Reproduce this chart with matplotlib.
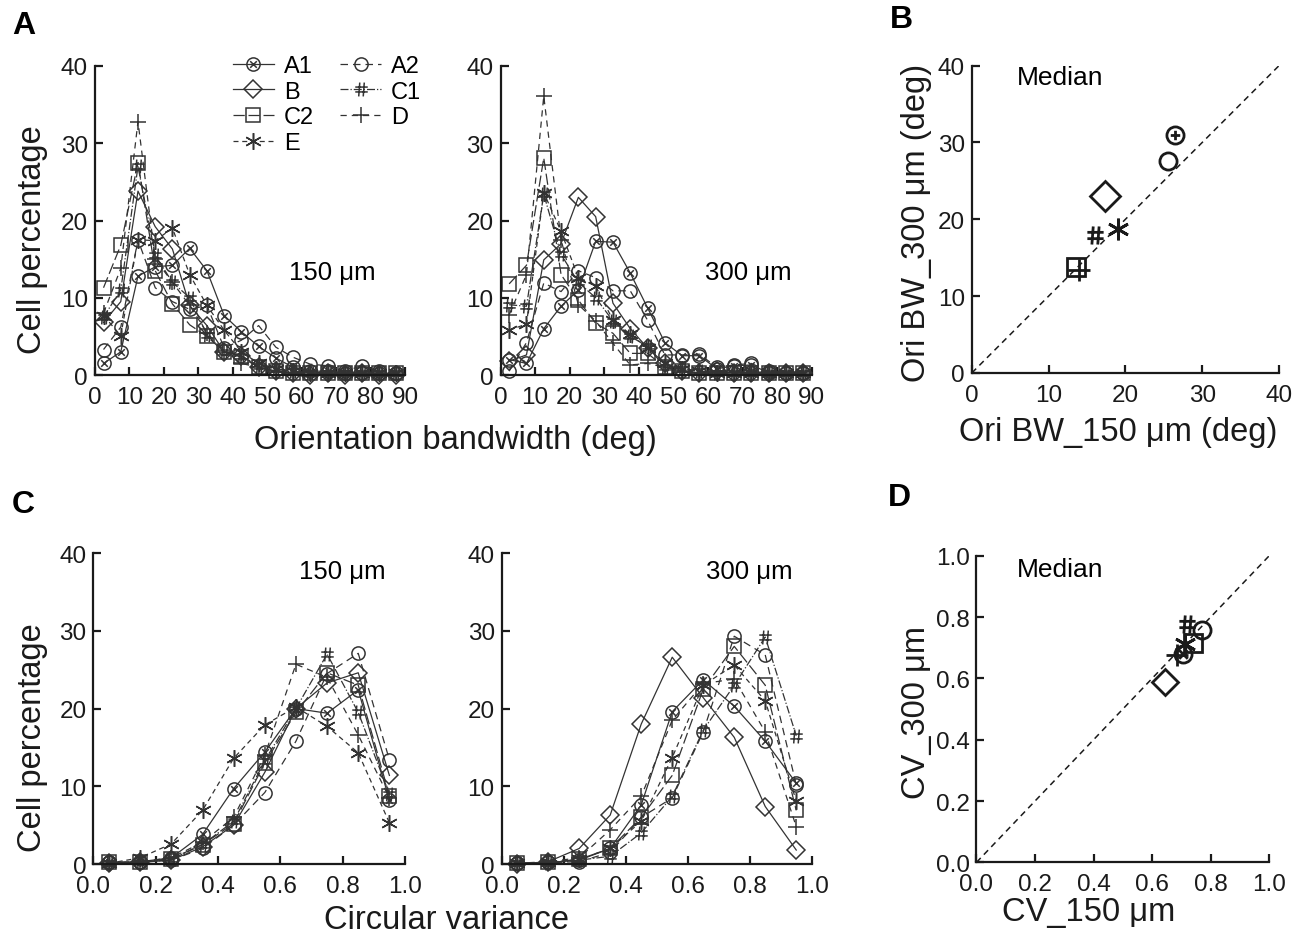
import numpy as np
import matplotlib
matplotlib.use('Agg')
import matplotlib.pyplot as plt
from matplotlib.path import Path

plt.rcParams['font.family'] = ['Liberation Sans', 'DejaVu Sans']

# animals / series
names = ['A1', 'A2', 'B', 'C1', 'C2', 'D', 'E']
legend_order = ['A1', 'B', 'C2', 'E', 'A2', 'C1', 'D']

# orientation bandwidth histograms (bin centres in deg)
bw_bins = [2.5, 7.5, 12.5, 17.5, 22.5, 27.5, 32.5, 37.5, 42.5,
           47.5, 52.5, 57.5, 62.5, 67.5, 72.5, 77.5, 82.5, 87.5]
bw150 = {
    'A1': [1.5, 3.0, 12.8, 14.0, 14.2, 16.4, 13.5, 7.7, 5.6, 3.7, 2.2, 1.0, 0.5, 0.5, 0.3, 0.3, 0.2, 0.2],
    'A2': [3.3, 6.2, 17.5, 11.3, 9.5, 8.5, 9.0, 3.5, 4.5, 6.4, 3.6, 2.3, 1.4, 1.2, 0.5, 1.2, 0.5, 0.3],
    'B':  [6.8, 9.5, 23.8, 19.2, 16.3, 9.0, 6.4, 3.0, 2.5, 1.0, 0.5, 0.2, 0.0, 0.2, 0.0, 0.2, 0.0, 0.0],
    'C1': [7.5, 11.0, 27.0, 15.5, 12.0, 10.0, 5.2, 3.0, 2.5, 1.2, 0.8, 0.5, 0.3, 0.3, 0.2, 0.2, 0.2, 0.2],
    'C2': [11.3, 16.8, 27.5, 13.5, 9.2, 6.5, 5.0, 3.0, 2.3, 1.0, 0.5, 0.3, 0.3, 0.2, 0.2, 0.2, 0.2, 0.2],
    'D':  [8.0, 13.8, 32.8, 15.0, 12.0, 9.0, 5.5, 3.0, 1.5, 1.0, 0.5, 0.3, 0.2, 0.2, 0.2, 0.2, 0.2, 0.2],
    'E':  [7.7, 5.1, 17.5, 17.4, 19.0, 13.0, 9.0, 5.8, 3.0, 1.5, 0.8, 0.5, 0.3, 0.3, 0.2, 0.2, 0.2, 0.2],
}
bw300 = {
    'A1': [2.0, 1.5, 6.0, 8.9, 11.0, 17.3, 17.2, 13.2, 8.7, 4.2, 2.5, 2.5, 0.8, 1.2, 1.3, 0.3, 0.3, 0.3],
    'A2': [0.5, 4.2, 11.9, 10.8, 13.5, 12.6, 10.9, 10.9, 7.1, 2.6, 2.6, 2.7, 1.0, 1.3, 1.5, 0.5, 0.3, 0.3],
    'B':  [1.8, 2.6, 14.9, 17.0, 23.0, 20.5, 9.3, 6.0, 3.5, 1.5, 0.5, 0.2, 0.5, 0.3, 0.2, 0.2, 0.2, 0.2],
    'C1': [9.1, 8.9, 23.4, 15.6, 12.0, 10.0, 7.0, 5.0, 3.7, 1.0, 0.8, 0.5, 0.3, 0.3, 0.3, 0.3, 0.3, 0.3],
    'C2': [11.8, 14.2, 28.1, 13.0, 9.7, 6.7, 5.4, 2.8, 2.8, 1.0, 0.5, 0.3, 0.3, 0.3, 0.3, 0.3, 0.3, 0.3],
    'D':  [7.8, 13.0, 36.1, 17.5, 9.1, 7.0, 4.1, 1.3, 1.5, 1.0, 0.5, 0.3, 0.3, 0.3, 0.3, 0.3, 0.3, 0.3],
    'E':  [5.8, 6.6, 23.6, 18.6, 12.6, 11.5, 7.1, 5.3, 3.5, 1.5, 0.8, 0.5, 0.3, 0.3, 0.3, 0.3, 0.3, 0.3],
}

# circular variance histograms
cv_bins = [0.05, 0.15, 0.25, 0.35, 0.45, 0.55, 0.65, 0.75, 0.85, 0.95]
cv150 = {
    'A1': [0.2, 0.3, 0.8, 3.8, 9.7, 14.4, 20.0, 19.4, 22.4, 8.2],
    'A2': [0.2, 0.3, 0.5, 2.0, 5.0, 9.2, 15.8, 24.5, 27.1, 13.4],
    'B':  [0.1, 0.2, 0.5, 2.2, 5.0, 11.8, 20.0, 23.3, 24.6, 11.4],
    'C1': [0.1, 0.2, 0.6, 2.5, 5.5, 13.3, 20.0, 27.0, 19.5, 9.0],
    'C2': [0.2, 0.2, 0.7, 2.5, 5.2, 13.0, 19.5, 24.6, 23.0, 8.8],
    'D':  [0.1, 0.3, 0.8, 2.8, 6.0, 14.0, 25.7, 24.0, 16.6, 8.5],
    'E':  [0.1, 0.8, 2.6, 6.9, 13.6, 17.9, 20.2, 17.7, 14.3, 5.3],
}
cv300 = {
    'A1': [0.1, 0.2, 0.5, 2.0, 7.6, 19.6, 23.7, 20.3, 15.8, 10.4],
    'A2': [0.1, 0.2, 0.3, 1.5, 6.0, 8.5, 17.0, 29.3, 26.9, 10.2],
    'B':  [0.0, 0.3, 2.0, 6.3, 18.0, 26.6, 21.4, 16.3, 7.4, 1.8],
    'C1': [0.1, 0.1, 0.5, 1.0, 4.0, 8.7, 17.2, 23.0, 29.2, 16.5],
    'C2': [0.1, 0.2, 0.6, 2.0, 6.0, 11.4, 22.5, 28.0, 23.0, 6.9],
    'D':  [0.1, 0.3, 0.8, 4.4, 8.7, 18.5, 23.2, 23.8, 17.0, 4.8],
    'E':  [0.1, 0.2, 0.6, 2.0, 5.5, 13.7, 23.0, 25.6, 21.0, 8.1],
}

# medians, same order as names
med_bw150 = [26.5, 25.6, 17.4, 16.1, 13.5, 14.0, 19.0]
med_bw300 = [31.0, 27.6, 23.0, 17.9, 13.75, 13.4, 18.7]
med_cv150 = [0.705, 0.769, 0.644, 0.720, 0.741, 0.684, 0.712]
med_cv300 = [0.679, 0.758, 0.587, 0.777, 0.717, 0.676, 0.712]

# custom markers
M, L = Path.MOVETO, Path.LINETO
circ = Path.unit_circle()
circ_x = Path.make_compound_path(
    circ, Path([[-0.5, -0.5], [0.5, 0.5], [-0.5, 0.5], [0.5, -0.5]], [M, L, M, L]))
circ_plus = Path.make_compound_path(
    circ, Path([[-0.55, 0], [0.55, 0], [0, -0.55], [0, 0.55]], [M, L, M, L]))
hash_m = Path([[-0.4, -1], [-0.25, 1], [0.25, -1], [0.4, 1],
               [-0.9, 0.35], [0.9, 0.35], [-0.9, -0.35], [0.9, -0.35]],
              [M, L, M, L, M, L, M, L])

style = {
    'A1': dict(marker=circ_x, ls='-', ms=9.5),
    'A2': dict(marker='o', ls=(0, (6, 4)), ms=9.5),
    'B':  dict(marker='D', ls='-', ms=9.5),
    'C1': dict(marker=hash_m, ls='-.', ms=10),
    'C2': dict(marker='s', ls=(0, (9, 3)), ms=9.5),
    'D':  dict(marker='+', ls=(0, (5, 4)), ms=12),
    'E':  dict(marker=(6, 2, 0), ls=(0, (4, 3)), ms=12),
}
gray = '#333333'


def style_axes(ax, xlim, xticks, xlabels, ylim, yticks):
    ax.set_xlim(xlim)
    ax.set_ylim(ylim)
    ax.set_xticks(xticks)
    ax.set_xticklabels(xlabels)
    ax.set_yticks(yticks)
    for s in ['top', 'right']:
        ax.spines[s].set_visible(False)
    for s in ['left', 'bottom']:
        ax.spines[s].set_linewidth(1.6)
        ax.spines[s].set_color('#1a1a1a')
    ax.tick_params(direction='in', length=6, width=1.6, labelsize=17.5,
                   colors='#1a1a1a')
    ax.tick_params(axis='x', pad=8)
    ax.tick_params(axis='y', pad=5)
    ax.patch.set_alpha(0)


def line_panel(ax, bins, data):
    handles = {}
    for n in names:
        st = style[n]
        h, = ax.plot(bins, data[n], color=gray, lw=0.9, ls=st['ls'],
                     marker=st['marker'], ms=st['ms'], mfc='none', mec=gray,
                     mew=1.1, clip_on=False, label=n)
        handles[n] = h
    return handles


fig = plt.figure(figsize=(12.93, 9.37), dpi=100)

axA1 = fig.add_axes([0.0734, 0.5987, 0.2399, 0.3298])
axA2 = fig.add_axes([0.3871, 0.5987, 0.2408, 0.3298])
axB = fig.add_axes([0.7516, 0.6009, 0.2376, 0.3280])
axC1 = fig.add_axes([0.0723, 0.0768, 0.2409, 0.3319])
axC2 = fig.add_axes([0.3880, 0.0768, 0.2398, 0.3319])
axD = fig.add_axes([0.7552, 0.0786, 0.2264, 0.3272])

bw_ticks = list(range(0, 91, 10))
cv_ticks = [0, 0.2, 0.4, 0.6, 0.8, 1.0]
cv_labels = ['0.0', '0.2', '0.4', '0.6', '0.8', '1.0']
pct_ticks = [0, 10, 20, 30, 40]

hA = line_panel(axA1, bw_bins, bw150)
line_panel(axA2, bw_bins, bw300)
line_panel(axC1, cv_bins, cv150)
line_panel(axC2, cv_bins, cv300)

for ax in [axA1, axA2]:
    style_axes(ax, (0, 90), bw_ticks, [str(t) for t in bw_ticks], (0, 40), pct_ticks)
for ax in [axC1, axC2]:
    style_axes(ax, (0, 1), cv_ticks, cv_labels, (0, 40), pct_ticks)

axA1.text(69, 13.3, '150 μm', fontsize=18.5, ha='center', va='center')
axA2.text(71.5, 13.3, '300 μm', fontsize=18.5, ha='center', va='center')
axC1.text(0.80, 37.7, '150 μm', fontsize=18.5, ha='center', va='center')
axC2.text(0.80, 37.7, '300 μm', fontsize=18.5, ha='center', va='center')

axA1.legend([hA[n] for n in legend_order], legend_order, ncol=2, frameon=False,
            loc='upper left', bbox_to_anchor=(0.444, 1.035), fontsize=17,
            handlelength=1.75, handletextpad=0.42, columnspacing=1.1,
            labelspacing=0.15, borderaxespad=0, borderpad=0)

# median scatter panels
for ax, xs, ys, lim in [(axB, med_bw150, med_bw300, 40), (axD, med_cv150, med_cv300, 1.0)]:
    ax.plot([0, lim], [0, lim], color='#1a1a1a', lw=1.1, ls=(0, (4, 3)))
    for i, n in enumerate(names):
        mk = style[n]['marker']
        if ax is axB and n == 'A1':
            mk = circ_plus
        ms = style[n]['ms'] * 1.3
        if n == 'B':
            ms = 15 if ax is axB else 13
        ax.plot(xs[i], ys[i], ls='none', marker=mk, ms=ms, mfc='none',
                mec='#1a1a1a', mew=2.0, clip_on=False)

style_axes(axB, (0, 40), pct_ticks, [str(t) for t in pct_ticks], (0, 40), pct_ticks)
style_axes(axD, (0, 1), cv_ticks, cv_labels, (0, 1), cv_ticks)
axD.set_yticklabels(cv_labels)
axB.text(5.9, 38.5, 'Median', fontsize=19, ha='left', va='center')
axD.text(0.138, 0.957, 'Median', fontsize=19, ha='left', va='center')

# axis labels
lab = dict(fontsize=23.5, color='#1a1a1a')
fig.text(0.0255, 0.744, 'Cell percentage', rotation=90, ha='center', va='center', **lab)
fig.text(0.0255, 0.2124, 'Cell percentage', rotation=90, ha='center', va='center', **lab)
fig.text(0.352, 0.530, 'Orientation bandwidth (deg)', ha='center', va='center', **lab)
fig.text(0.345, 0.018, 'Circular variance', ha='center', va='center', **lab)
fig.text(0.8647, 0.538, 'Ori BW_150 μm (deg)', ha='center', va='center', **lab)
fig.text(0.709, 0.762, 'Ori BW_300 μm (deg)', rotation=90, ha='center', va='center', **lab)
fig.text(0.842, 0.026, 'CV_150 μm', ha='center', va='center', **lab)
fig.text(0.709, 0.240, 'CV_300 μm', rotation=90, ha='center', va='center', **lab)

# panel letters
for x, y, s in [(0.018, 0.972, 'A'), (0.697, 0.979, 'B'), (0.018, 0.461, 'C'), (0.696, 0.469, 'D')]:
    fig.text(x, y, s, fontsize=23, fontweight='bold', ha='center', va='center')

fig.savefig('out.png', dpi=100)
